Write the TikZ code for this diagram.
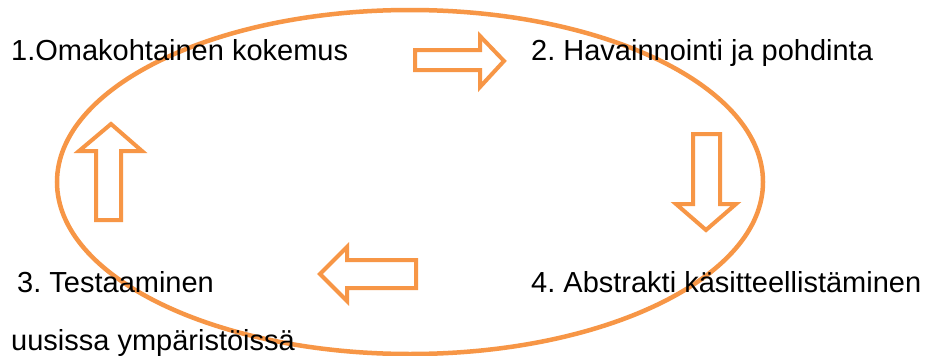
\documentclass[tikz,border=0pt]{standalone}
\usepackage{fontspec}
\setmainfont{Liberation Sans}
\definecolor{accorange}{HTML}{F79646}
\begin{document}
\frenchspacing
\begin{tikzpicture}[x=1pt,y=-1pt,
  ring/.style={draw=accorange,line width=4.5pt},
  blockarrow/.style={draw=accorange,line width=4pt,line join=miter,fill=white},
  label/.style={anchor=base west,inner sep=0pt,font=\fontsize{29}{34}\selectfont,text=black}]
\useasboundingbox (0,0) rectangle (929,356);
\fill[white] (0,0) rectangle (929,356);
% ring
\draw[ring] (410,182) ellipse [x radius=353, y radius=172];
% block arrows
\draw[blockarrow] (415,50) -- (480,50) -- (480,36) -- (504,61) -- (480,87) -- (480,70) -- (415,70) -- cycle;
\draw[blockarrow] (693,134) -- (720,134) -- (720,204) -- (736,204) -- (706,230) -- (676,204) -- (693,204) -- cycle;
\draw[blockarrow] (416,260) -- (347,260) -- (347,247) -- (320,274) -- (347,301) -- (347,288) -- (416,288) -- cycle;
\draw[blockarrow] (96,220) -- (96,151) -- (79,151) -- (111,124) -- (142,151) -- (121,151) -- (121,220) -- cycle;
% labels
\node[label] (t1) at (11,60) {1.Omakohtainen kokemus};
\node[label] (t2) at (531,60) {2. Havainnointi ja pohdinta};
\node[label] (t3) at (17,292) {3. Testaaminen};
\node[label] (t3b) at (11,350) {uusissa ympäristöissä};
\node[label] (t4) at (531,292) {4. Abstrakti käsitteellistäminen};
\end{tikzpicture}
\end{document}
